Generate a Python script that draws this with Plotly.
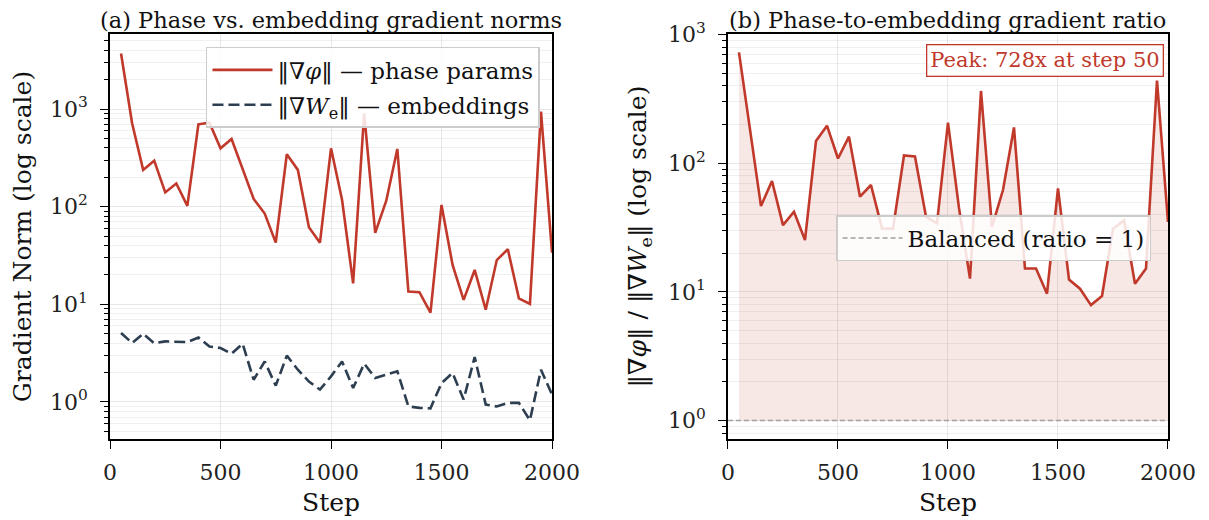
import plotly.graph_objects as go

steps = list(range(50, 2001, 50))
phase_norm = [3700, 714, 238, 296, 140, 173, 102, 697, 725, 396,
              493, 238, 120, 85, 42.8, 344, 238, 61.5, 42.8, 396,
              117, 16.4, 904, 54, 115, 390, 13.5, 13.3, 8.2, 104,
              25.3, 11.1, 22.5, 8.8, 28.4, 36.6, 11.5, 10.1, 939, 33.8]
emb_norm = [5.08, 4.02, 5.0, 4.0, 4.17, 4.1, 4.1, 4.58, 3.7, 3.57,
            3.12, 3.95, 1.69, 2.6, 1.47, 2.98, 2.14, 1.62, 1.34, 1.83,
            2.6, 1.39, 2.47, 1.76, 1.9, 2.06, 0.9, 0.87, 0.86, 1.56,
            1.98, 1.06, 2.89, 0.94, 0.9, 0.98, 0.98, 0.65, 2.14, 1.19]
ratio = [728, 182, 46.5, 72.8, 33.1, 42, 25.3, 149, 196, 109,
         161, 55, 67.8, 31.2, 31, 115, 113, 38.4, 34.1, 207,
         45, 12.7, 365, 32, 62, 190, 15.2, 15.2, 9.7, 63.8,
         12.5, 10.6, 7.9, 9.3, 31, 36, 11.6, 15.2, 440, 35]
baseline = [1] * len(steps)
x_ticks = [0, 500, 1000, 1500, 2000]
y_major = [1, 10, 100, 1000]
y_major_text = ["10<sup>0</sup>", "10<sup>1</sup>", "10<sup>2</sup>", "10<sup>3</sup>"]
y_minor = [m * 10 ** e for e in range(-1, 4) for m in range(2, 10)]

RED = "#c0392b"
DARK = "#2c3e50"
FONT = "DejaVu Serif"
TICK = 22
LABEL = 25
TITLE = 22.5
LEG = 23

fig = go.Figure()

fig.add_trace(go.Scatter(x=steps, y=phase_norm, mode="lines",
                         line=dict(color=RED, width=2.6),
                         name="‖∇<i>φ</i>‖ — phase params", legendgroup="a",
                         xaxis="x", yaxis="y", legend="legend"))
fig.add_trace(go.Scatter(x=steps, y=emb_norm, mode="lines",
                         line=dict(color=DARK, width=2.6, dash="11px,5px"),
                         name="‖∇<i>W</i><sub>e</sub>‖ — embeddings", legendgroup="b",
                         xaxis="x", yaxis="y", legend="legend"))

fig.add_trace(go.Scatter(x=steps, y=baseline, mode="lines",
                         line=dict(width=0, color="rgba(0,0,0,0)"),
                         showlegend=False, hoverinfo="skip",
                         xaxis="x2", yaxis="y2"))
fig.add_trace(go.Scatter(x=steps, y=ratio, mode="lines",
                         line=dict(color=RED, width=2.6),
                         fill="tonexty", fillcolor="rgba(192,57,43,0.12)",
                         showlegend=False,
                         xaxis="x2", yaxis="y2"))
fig.add_trace(go.Scatter(x=[0, 2000], y=[1, 1], mode="lines",
                         line=dict(color="#a0a0a0", width=1.5, dash="5px,3px"),
                         name="Balanced (ratio = 1)",
                         xaxis="x2", yaxis="y2", legend="legend2"))

axis_common = dict(showline=True, linecolor="black", linewidth=1.5, mirror=True,
                   ticks="outside", ticklen=8, tickwidth=1.3, tickcolor="black",
                   showgrid=True, gridcolor="rgba(0,0,0,0.09)", gridwidth=1,
                   zeroline=False, automargin=False,
                   tickfont=dict(family=FONT, size=TICK, color="#222"))

xaxis_common = dict(axis_common, range=[0, 2000], tickvals=x_ticks, ticklabelstandoff=5,
                    title=dict(text="Step", font=dict(family=FONT, size=LABEL, color="#111"), standoff=9))

yminor = dict(tickvals=y_minor, ticks="outside", ticklen=4, tickcolor="black",
              showgrid=True, gridcolor="rgba(0,0,0,0.06)", gridwidth=1)

legend_common = dict(bgcolor="rgba(255,255,255,0.85)", bordercolor="#cccccc", borderwidth=1.5,
                     font=dict(family=FONT, size=LEG, color="#111"), itemwidth=60,
                     traceorder="grouped", tracegroupgap=2)

# The page body adds an 8px offset, so the figure is 8px smaller and margins are shifted.
fig.update_layout(
    width=1201, height=512,
    margin=dict(l=102, r=41, t=26, b=81, autoexpand=False),
    paper_bgcolor="white", plot_bgcolor="white",
    font=dict(family=FONT, color="black"),
    xaxis=dict(xaxis_common, domain=[0, 0.4178], anchor="y"),
    xaxis2=dict(xaxis_common, domain=[0.5841, 1.0], anchor="y2"),
    yaxis=dict(axis_common, type="log", range=[-0.379, 3.768], anchor="x",
               tickvals=y_major, ticktext=y_major_text, minor=yminor, ticklabelstandoff=8,
               title=dict(text="Gradient Norm (log scale)",
                          font=dict(family=FONT, size=LABEL, color="#111"), standoff=14)),
    yaxis2=dict(axis_common, type="log", range=[-0.143, 3.005], anchor="x2",
                tickvals=y_major, ticktext=y_major_text, minor=yminor, ticklabelstandoff=8,
                title=dict(text="‖∇<i>φ</i>‖ / ‖∇<i>W</i><sub>e</sub>‖ (log scale)",
                           font=dict(family=FONT, size=LABEL, color="#111"), standoff=14)),
    legend=dict(legend_common, x=0.4064, y=0.968, xanchor="right", yanchor="top"),
    legend2=dict(legend_common, x=0.984, y=0.553, xanchor="right", yanchor="top"),
    annotations=[
        dict(text="(a) Phase vs. embedding gradient norms", xref="paper", yref="paper",
             x=0.2089, y=1.0, yshift=29, xanchor="center", yanchor="top", showarrow=False,
             font=dict(family=FONT, size=TITLE, color="#111")),
        dict(text="(b) Phase-to-embedding gradient ratio", xref="paper", yref="paper",
             x=0.792, y=1.0, yshift=29, xanchor="center", yanchor="top", showarrow=False,
             font=dict(family=FONT, size=TITLE, color="#111")),
        dict(text="Peak: 728x at step 50", xref="x2 domain", yref="y2 domain",
             x=0.992, y=0.975, xanchor="right", yanchor="top", showarrow=False,
             font=dict(family=FONT, size=21, color=RED),
             bgcolor="white", bordercolor=RED, borderwidth=1.3, borderpad=3),
    ],
)

fig.write_html("out.html")
